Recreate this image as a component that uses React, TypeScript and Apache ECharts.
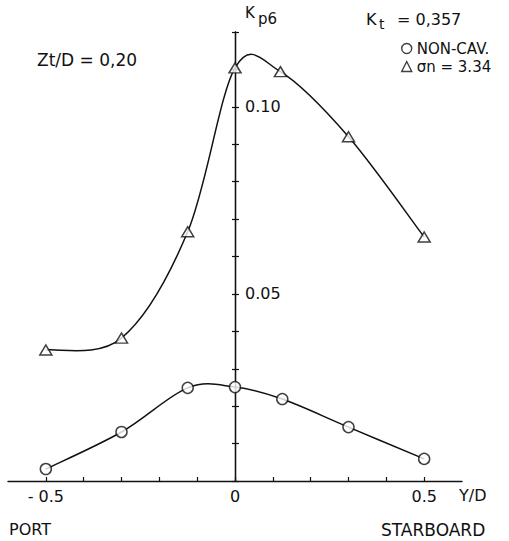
import React, { useEffect, useRef } from "react";
import * as echarts from "echarts";

// Non-cavitating measurements (circles)
const nonCavX = [-0.5, -0.3, -0.125, 0, 0.125, 0.3, 0.5];
const nonCavY = [0.0032, 0.0131, 0.0249, 0.0251, 0.0219, 0.0144, 0.0059];

// Cavitating measurements, sigma_n = 3.34 (triangles)
const cavX = [-0.5, -0.3, -0.125, 0, 0.12, 0.3, 0.5];
const cavY = [0.035, 0.0382, 0.0666, 0.1104, 0.1094, 0.092, 0.0652];

const xTicks = [-0.5, -0.4, -0.3, -0.2, -0.1, 0, 0.1, 0.2, 0.3, 0.4, 0.5];
const xTickLabels = [-0.5, 0, 0.5];
const yTickLabels = [0.05, 0.1];

const FONT = "DejaVu Sans, Liberation Sans, sans-serif";
const INK = "#111";

// Smooth (Catmull-Rom) curve through points given in pixel coordinates
function splinePath(pts: number[][]): string {
  let d = `M${pts[0][0]},${pts[0][1]}`;
  for (let i = 0; i < pts.length - 1; i++) {
    const p0 = pts[i - 1] || pts[i];
    const p1 = pts[i];
    const p2 = pts[i + 1];
    const p3 = pts[i + 2] || pts[i + 1];
    const c1x = p1[0] + (p2[0] - p0[0]) / 6;
    const c1y = p1[1] + (p2[1] - p0[1]) / 6;
    const c2x = p2[0] - (p3[0] - p1[0]) / 6;
    const c2y = p2[1] - (p3[1] - p1[1]) / 6;
    d += ` C${c1x},${c1y} ${c2x},${c2y} ${p2[0]},${p2[1]}`;
  }
  return d;
}

function curveSeries(xs: number[], ys: number[]) {
  return {
    type: "custom",
    coordinateSystem: "cartesian2d",
    silent: true,
    z: 2,
    data: [[xs[0], ys[0]]],
    renderItem: (_params: any, api: any) => {
      const pts = xs.map((x, i) => api.coord([x, ys[i]]));
      return {
        type: "path",
        shape: { pathData: splinePath(pts) },
        style: { fill: "none", stroke: INK, lineWidth: 1.5 },
      };
    },
  };
}

export default function App() {
  const ref = useRef<HTMLDivElement>(null);

  useEffect(() => {
    if (!ref.current) return;
    const chart = echarts.init(ref.current, undefined, { renderer: "svg" });

    const zip = (xs: number[], ys: number[]) => xs.map((x, i) => [x, ys[i]]);

    const yCommon = {
      type: "value",
      min: 0,
      max: 0.12,
      interval: 0.01,
      position: "left",
      offset: -227,
      splitLine: { show: false },
      axisLine: { show: true, onZero: false, lineStyle: { color: INK, width: 1.3 } },
    };

    const option: any = {
      animation: false,
      backgroundColor: "#fff",
      grid: { left: 8, top: 32, width: 454, height: 449, containLabel: false, outerBoundsMode: "none" },
      xAxis: {
        type: "value",
        min: -0.6,
        max: 0.6,
        interval: 0.1,
        splitLine: { show: false },
        axisLine: { onZero: false, lineStyle: { color: INK, width: 1.3 } },
        axisTick: { inside: true, length: 4, customValues: xTicks, lineStyle: { color: INK, width: 1.2 } },
        axisLabel: {
          customValues: xTickLabels,
          margin: 7,
          fontSize: 16,
          fontFamily: FONT,
          color: INK,
          formatter: (v: number) => (v < 0 ? "- " + Math.abs(v).toFixed(1) : v === 0 ? "0" : v.toFixed(1)),
        },
      },
      yAxis: [
        {
          ...yCommon,
          axisTick: { inside: true, length: 4, lineStyle: { color: INK, width: 1.2 } },
          axisLabel: {
            customValues: yTickLabels,
            inside: true,
            margin: 10,
            fontSize: 16,
            fontFamily: FONT,
            color: INK,
            formatter: (v: number) => v.toFixed(2),
          },
        },
        {
          ...yCommon,
          axisTick: { inside: false, length: 3, lineStyle: { color: INK, width: 1.2 } },
          axisLabel: { show: false },
        },
      ],
      legend: {
        orient: "vertical",
        left: 396,
        top: 36,
        itemWidth: 10,
        itemHeight: 10,
        itemGap: 3,
        itemTextGap: 7,
        selectedMode: false,
        textStyle: { fontSize: 15, fontFamily: FONT, color: INK },
        data: [
          { name: "NON-CAV.", icon: "circle", itemStyle: { color: "#fff", borderColor: INK, borderWidth: 1.4 } },
          { name: "σn = 3.34", icon: "triangle", itemStyle: { color: "#fff", borderColor: INK, borderWidth: 1.4 } },
        ],
      },
      series: [
        curveSeries(nonCavX, nonCavY),
        curveSeries(cavX, cavY),
        {
          name: "NON-CAV.",
          type: "scatter",
          data: zip(nonCavX, nonCavY),
          symbol: "circle",
          symbolSize: 11,
          itemStyle: { color: "#fff", borderColor: INK, borderWidth: 1.5 },
          z: 4,
        },
        {
          name: "σn = 3.34",
          type: "scatter",
          data: zip(cavX, cavY),
          symbol: "triangle",
          symbolSize: [12, 10],
          itemStyle: { color: "#fff", borderColor: INK, borderWidth: 1.5 },
          z: 4,
        },
      ],
      graphic: [
        { type: "text", left: 245, top: 5, style: { text: "K", fontSize: 15, fontFamily: FONT, fill: INK } },
        { type: "text", left: 258, top: 11, style: { text: "p6", fontSize: 15, fontFamily: FONT, fill: INK } },
        { type: "text", left: 366, top: 11, style: { text: "K", fontSize: 16, fontFamily: FONT, fill: INK } },
        { type: "text", left: 379, top: 17, style: { text: "t", fontSize: 14, fontFamily: FONT, fill: INK } },
        { type: "text", left: 397, top: 11, style: { text: "= 0,357", fontSize: 16, fontFamily: FONT, fill: INK } },
        { type: "text", left: 37, top: 51, style: { text: "Zt/D = 0,20", fontSize: 17, fontFamily: FONT, fill: INK } },
        { type: "text", left: 459, top: 487, style: { text: "Y/D", fontSize: 16, fontFamily: FONT, fill: INK } },
        { type: "text", left: 9, top: 521, style: { text: "PORT", fontSize: 16, fontFamily: FONT, fill: INK } },
        { type: "text", left: 381, top: 521, style: { text: "STARBOARD", fontSize: 17, fontFamily: FONT, fill: INK } },
      ],
    };

    chart.setOption(option);
    return () => chart.dispose();
  }, []);

  return (
    <div
      ref={ref}
      style={{ position: "fixed", left: 0, top: 0, width: 509, height: 541, background: "#fff" }}
    />
  );
}
